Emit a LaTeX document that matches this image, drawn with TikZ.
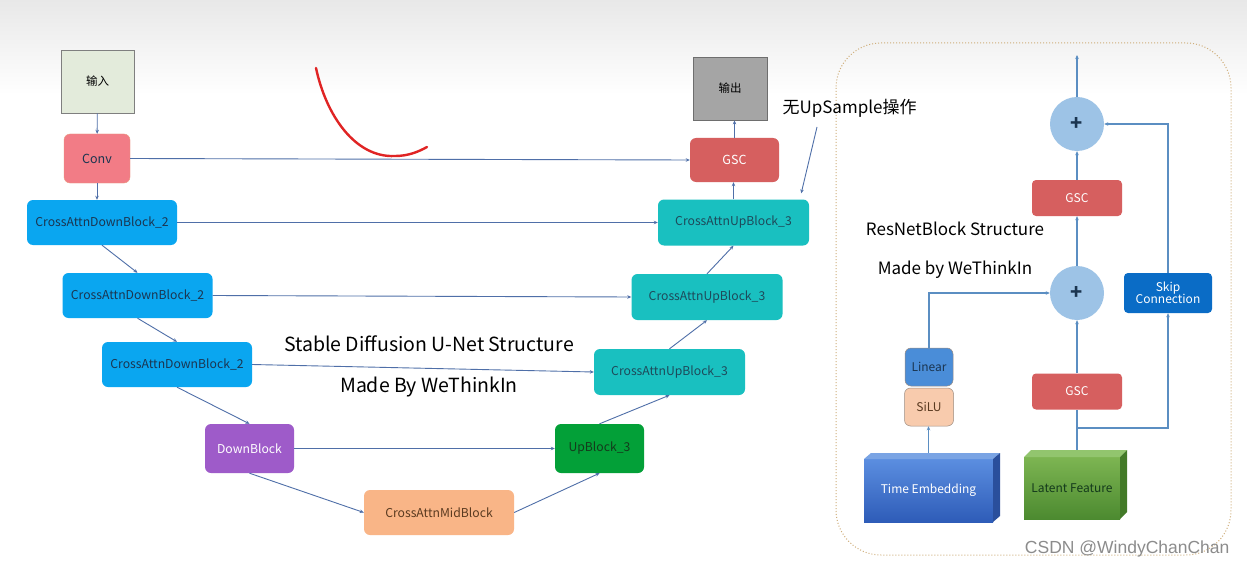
\documentclass[tikz,border=0pt]{standalone}
\usepackage{fontspec}
\setmainfont{Noto Sans CJK SC}
\newfontfamily\wmfont{Liberation Sans}
\usetikzlibrary{arrows.meta,calc}
\definecolor{inF}{HTML}{E3EBDB}
\definecolor{inD}{HTML}{7F7F7F}
\definecolor{convF}{HTML}{F27C86}
\definecolor{convD}{HTML}{E99A7E}
\definecolor{cdbF}{HTML}{0AA6F0}
\definecolor{cdbT}{HTML}{1B3550}
\definecolor{downF}{HTML}{9E5BC9}
\definecolor{midF}{HTML}{F9B587}
\definecolor{midT}{HTML}{5A3A20}
\definecolor{upF}{HTML}{03A038}
\definecolor{upT}{HTML}{143A1C}
\definecolor{cubF}{HTML}{19C0C0}
\definecolor{cubT}{HTML}{1E4A5A}
\definecolor{gscF}{HTML}{D65F5F}
\definecolor{outF}{HTML}{A5A5A5}
\definecolor{outD}{HTML}{6E6E6E}
\definecolor{plusF}{HTML}{9DC3E6}
\definecolor{skipF}{HTML}{0A6CC6}
\definecolor{linF}{HTML}{4A8DD8}
\definecolor{siluF}{HTML}{F8CBAD}
\definecolor{siluD}{HTML}{9C8C80}
\definecolor{arrC}{HTML}{4F6FA8}
\definecolor{rC}{HTML}{5B8EC2}
\definecolor{panelC}{HTML}{CFAE7A}
\definecolor{penR}{HTML}{E02424}
\definecolor{teTop}{HTML}{5B8EE0}
\definecolor{teBot}{HTML}{2E5CB8}
\definecolor{teBev}{HTML}{7AA4E4}
\definecolor{teSide}{HTML}{2A4F9C}
\definecolor{lfTop}{HTML}{7DB552}
\definecolor{lfBot}{HTML}{4C8A30}
\definecolor{lfBev}{HTML}{92C56E}
\definecolor{lfSide}{HTML}{437A28}
\begin{document}
\begin{tikzpicture}[x=1pt,y=-1pt,
  box/.style={rectangle, rounded corners=6pt, inner sep=2pt, font=\fontsize{12.2}{14}\selectfont},
  inbox/.style={rectangle, draw=inD, fill=inF, line width=0.8pt, minimum width=73pt, minimum height=63pt, font=\fontsize{11.5}{13}\selectfont},
  outbox/.style={rectangle, draw=outD, fill=outF, line width=0.8pt, minimum width=74pt, minimum height=63pt, font=\fontsize{11.5}{13}\selectfont},
  convbox/.style={box, draw=convD, fill=convF, minimum width=66pt, minimum height=49pt, text=cdbT, font=\fontsize{12.5}{14}\selectfont},
  cdb/.style={box, fill=cdbF, text=cdbT, minimum width=150pt, minimum height=45pt},
  cub/.style={box, fill=cubF, text=cubT, minimum width=151pt, minimum height=46pt},
  downbox/.style={box, fill=downF, text=white, minimum width=89pt, minimum height=49pt},
  midbox/.style={box, fill=midF, text=midT, minimum width=150pt, minimum height=45pt},
  upbox/.style={box, fill=upF, text=upT, minimum width=89pt, minimum height=49pt},
  gscbox/.style={box, fill=gscF, text=white, minimum width=89pt, minimum height=44pt, font=\fontsize{12.5}{14}\selectfont},
  rgsc/.style={box, rounded corners=4pt, fill=gscF, text=white, minimum width=90pt, minimum height=36pt, font=\fontsize{12}{13}\selectfont},
  plus/.style={circle, fill=plusF, minimum size=54pt, inner sep=0pt, text=cdbT, font=\fontsize{20}{20}\selectfont\bfseries},
  skipbox/.style={box, rounded corners=4pt, fill=skipF, text=white, minimum width=88pt, minimum height=40pt, align=center, font=\fontsize{12}{12.5}\selectfont},
  linbox/.style={box, draw=siluD, line width=0.5pt, fill=linF, text=cdbT, minimum width=48pt, minimum height=38pt, font=\fontsize{12}{13}\selectfont},
  silubox/.style={box, draw=siluD, line width=0.5pt, fill=siluF, text=midT, minimum width=49pt, minimum height=38pt, font=\fontsize{12}{13}\selectfont},
  arr/.style={draw=arrC, line width=0.9pt, -{Stealth[length=4pt,width=3.5pt]}},
  rarr/.style={draw=rC, line width=1.3pt, -{Stealth[length=4pt,width=3.5pt]}},
  rline/.style={draw=rC, line width=1.3pt},
  title/.style={font=\fontsize{19.5}{21}\selectfont, text=black},
  rtitle/.style={font=\fontsize{17}{19}\selectfont, text=black}
]
\useasboundingbox (0,0) rectangle (1247,567);
\fill[white] (0,0) rectangle (1247,567);
\shade[top color=black!9, bottom color=white] (0,0) rectangle (1247,95);

% right panel
\draw[panelC, line width=1pt, dotted, rounded corners=45pt] (836,43) rectangle (1231,555);

% U-Net nodes
\node[inbox] (in) at (97.5,81.5) {输入};
\node[convbox] (conv) at (97,158.5) {Conv};
\node[cdb] (d1) at (102,222.5) {CrossAttnDownBlock\_2};
\node[cdb] (d2) at (137.5,295.5) {CrossAttnDownBlock\_2};
\node[cdb] (d3) at (177,364.5) {CrossAttnDownBlock\_2};
\node[downbox] (db) at (249.5,448.5) {DownBlock};
\node[midbox] (mb) at (439,512.5) {CrossAttnMidBlock};
\node[upbox] (ub) at (599.5,448.5) {UpBlock\_3};
\node[cub] (u3) at (669.5,372) {CrossAttnUpBlock\_3};
\node[cub] (u2) at (707,297) {CrossAttnUpBlock\_3};
\node[cub] (u1) at (733.5,222.5) {CrossAttnUpBlock\_3};
\node[gscbox] (gsc) at (734.5,160) {GSC};
\node[outbox] (out) at (730,88.5) {输出};

% U-Net connectors
\draw[arr] (in) -- (conv);
\draw[arr] (conv.south) -- (conv.south |- d1.north);
\draw[arr] (d1.south) -- (d2.north);
\draw[arr] (d2.south) -- (d3.north);
\draw[arr] (d3.south) -- (db.north);
\draw[arr] (db.south) -- (mb.west);
\draw[arr] (mb.east) -- (ub.south);
\draw[arr] (ub.north) -- (u3.south);
\draw[arr] (u3.north) -- (u2.south);
\draw[arr] (u2.north) -- (u1.south);
\draw[arr] (u1.north) -- (u1.north |- gsc.south);
\draw[arr] (gsc.north) -- (gsc.north |- out.south);
\draw[arr] (conv.east) -- (gsc.west);
\draw[arr] (d1.east) -- (u1.west);
\draw[arr] (d2.east) -- (u2.west);
\draw[arr] (d3.east) -- (u3.west);
\draw[arr] (db.east) -- (ub.west);

% titles
\node[title] (t1) at (429,344) {Stable Diffusion U-Net Structure};
\node[title] (t2) at (429,387) {Made By WeThinkIn};

% annotation
\node[anchor=west, font=\fontsize{17}{19}\selectfont] (note) at (779,108) {无UpSample操作};
\coordinate (na) at (817,127);
\draw[arr] (na) -- ($(u1.north east)+(-8,-6)$);

% red pen stroke
\draw[penR, line width=2.4pt, line cap=round] (316,68) .. controls (326,115) and (355,158) .. (395,156) .. controls (408,156) and (418,152) .. (427,147);

% ResNet block nodes
\node[plus] (p2) at (1077,124) {+};
\node[rgsc] (gr1) at (1077,198) {GSC};
\node[plus] (p1) at (1077,293) {+};
\node[skipbox] (sk) at (1168,293) {Skip\\Connection};
\node[rgsc] (gr2) at (1077,391.5) {GSC};
\node[linbox] (lin) at (929,367) {Linear};
\node[silubox] (silu) at (929,407) {SiLU};
\node[rectangle, top color=teTop, bottom color=teBot, minimum width=129pt, minimum height=63pt, text=white, font=\fontsize{12}{13}\selectfont] (te) at (928.5,490.5) {Time Embedding};
\node[rectangle, top color=lfTop, bottom color=lfBot, minimum width=96pt, minimum height=62pt, text=upT, font=\fontsize{12}{13}\selectfont] (lf) at (1072,488) {Latent Feature};

\node[rtitle] (t3) at (955,229) {ResNetBlock Structure};
\node[rtitle] (t4) at (955,270) {Made by WeThinkIn};

% ResNet connectors
\coordinate (top) at (1077,55);
\coordinate (br) at (1077,428);
\draw[rarr] (te.north) -- (te.north |- silu.south);
\draw[rarr] (lin.north) |- (p1.west);
\draw[rline] (lf.north -| gr2.south) -- (gr2.south);
\draw[rarr] (br) -| (sk.south);
\draw[rarr] (gr2.north) -- (p1.south);
\draw[rarr] (p1.north) -- (gr1.south);
\draw[rarr] (gr1.north) -- (p2.south);
\draw[rarr] (p2.north) -- (top);
\draw[rarr] (sk.north) |- (p2.east);

% 3D bevels
\fill[teBev] (864,459) -- (871,453) -- (1000,453) -- (993,459) -- cycle;
\fill[teSide] (993,459) -- (1000,453) -- (1000,516) -- (993,522) -- cycle;
\fill[lfBev] (1024,457) -- (1031,450) -- (1127,450) -- (1120,457) -- cycle;
\fill[lfSide] (1120,457) -- (1127,450) -- (1127,512) -- (1120,519) -- cycle;

% watermark
\node[anchor=east, text=black!45, font=\wmfont\fontsize{17.5}{19}\selectfont] (wm) at (1233,549) {CSDN @WindyChanChan};
\end{tikzpicture}
\end{document}
